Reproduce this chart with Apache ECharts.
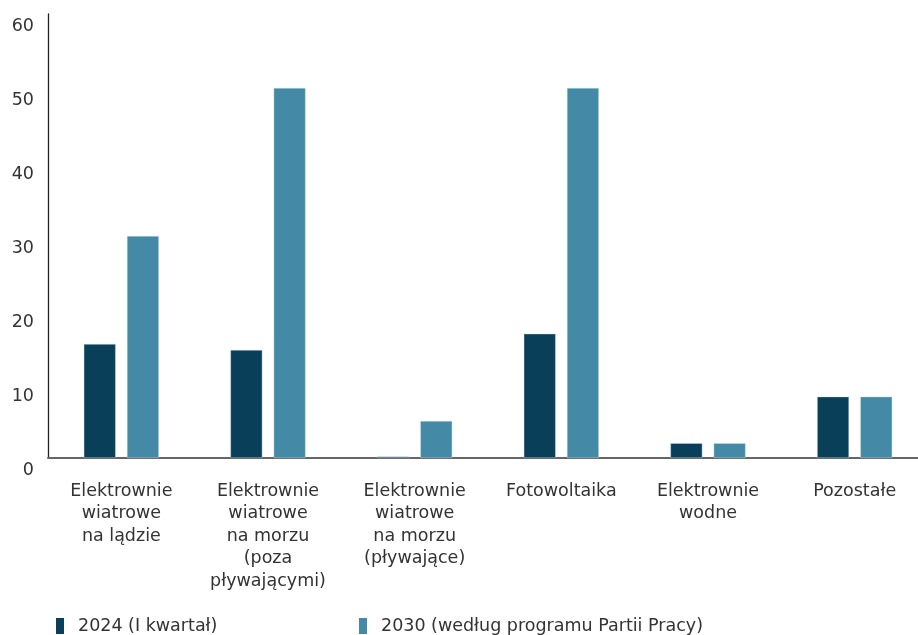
<!DOCTYPE html>
<html>
<head>
<meta charset="utf-8">
<script src="https://cdn.jsdelivr.net/npm/echarts@6/dist/echarts.min.js"></script>
<style>
  html, body { margin: 0; padding: 0; background: #fff; overflow: hidden; }
  /* the plot area runs slightly past the right edge of the window */
  #chart { width: 928px; height: 635px; }
</style>
</head>
<body>
<div id="chart"></div>
<script>
// Installed capacity by source (GW)
const categories = [
  'Elektrownie\nwiatrowe\nna lądzie',
  'Elektrownie\nwiatrowe\nna morzu\n(poza\npływającymi)',
  'Elektrownie\nwiatrowe\nna morzu\n(pływające)',
  'Fotowoltaika',
  'Elektrownie\nwodne',
  'Pozostałe'
];
const seriesNames = ['2024 (I kwartał)', '2030 (według programu Partii Pracy)'];
const values2024 = [15.4, 14.6, 0.2, 16.8, 2.0, 8.3];
const values2030 = [30, 50, 5, 50, 2.0, 8.3];
const yTicks = [0, 10, 20, 30, 40, 50, 60];

const colors = ['#093f59', '#4489a6'];
const font = '"DejaVu Sans", sans-serif';
const textColor = '#333';

const legendCommon = {
  top: 617,
  padding: 0,
  icon: 'rect', itemWidth: 8, itemHeight: 16,
  itemStyle: { borderWidth: 0 },
  textStyle: { fontFamily: font, fontSize: 17.5, color: textColor, padding: [0, 0, 0, 9] }
};

const chart = echarts.init(document.getElementById('chart'), null, { renderer: 'canvas' });
chart.setOption({
  animation: false,
  backgroundColor: '#ffffff',
  grid: { left: 48, right: 0, top: 14, bottom: 177, containLabel: false },
  legend: [
    Object.assign({ data: [seriesNames[0]], left: 56 }, legendCommon),
    Object.assign({ data: [seriesNames[1]], left: 359 }, legendCommon)
  ],
  xAxis: {
    type: 'category',
    data: categories,
    axisLine: { lineStyle: { color: '#666', width: 2 } },
    axisTick: { show: false },
    axisLabel: {
      interval: 0,
      margin: 22,
      fontFamily: font, fontSize: 17.5, color: textColor,
      lineHeight: 22.5
    }
  },
  yAxis: {
    type: 'value',
    min: yTicks[0], max: yTicks[yTicks.length - 1], interval: 10,
    splitLine: { show: false },
    axisTick: { show: false },
    axisLine: { show: true, lineStyle: { color: '#222', width: 1.3 } },
    axisLabel: {
      fontFamily: font, fontSize: 17.5, color: textColor,
      margin: 14, verticalAlign: 'top', padding: [3, 0, 0, 0]
    }
  },
  series: [
    {
      name: seriesNames[0], type: 'bar', data: values2024,
      barWidth: 32, barGap: '35%',
      itemStyle: { color: colors[0], borderColor: 'rgba(200,225,235,0.7)', borderWidth: 0.6 }
    },
    {
      name: seriesNames[1], type: 'bar', data: values2030,
      barWidth: 32,
      itemStyle: { color: colors[1], borderColor: 'rgba(200,225,235,0.7)', borderWidth: 0.6 }
    }
  ]
});
</script>
</body>
</html>
